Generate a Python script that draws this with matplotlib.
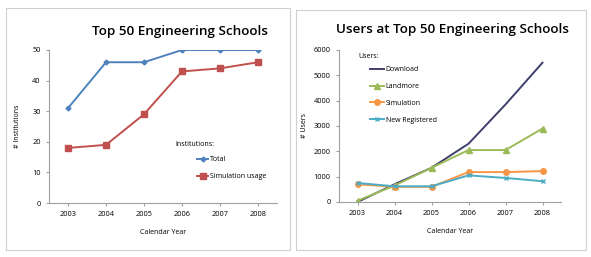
import matplotlib
matplotlib.use("Agg")
import matplotlib.pyplot as plt
from matplotlib.patches import Rectangle

years = ["2003", "2004", "2005", "2006", "2007", "2008"]
inst_total = [31, 46, 46, 50, 50, 50]
inst_sim = [18, 19, 29, 43, 44, 46]
users_download = [0, 700, 1350, 2300, 3850, 5500]
users_land = [50, 650, 1350, 2050, 2050, 2900]
users_sim = [700, 600, 600, 1180, 1180, 1220]
users_new = [750, 620, 620, 1050, 950, 820]

W, H = 591, 257
fig = plt.figure(figsize=(W / 100, H / 100), dpi=100)
fig.patch.set_facecolor("white")
plt.rcParams['font.family'] = ['Open Sans', 'DejaVu Sans']

def px(x, y, w, h):
    return [x / W, (H - y - h) / H, w / W, h / H]

# panel borders
for (x0, y0, w, h) in [(6, 8, 284, 242), (296, 10, 290, 240)]:
    fig.patches.append(Rectangle((x0 / W, (H - y0 - h) / H), w / W, h / H,
                                 transform=fig.transFigure, fill=False,
                                 edgecolor="#d0d0d0", linewidth=0.8))

xs = list(range(len(years)))

def style(ax):
    for s in ["top", "right"]:
        ax.spines[s].set_visible(False)
    for s in ["left", "bottom"]:
        ax.spines[s].set_color("#a0a0a0")
        ax.spines[s].set_linewidth(0.8)
    ax.tick_params(axis="both", labelsize=5.3, length=2, color="#a0a0a0", pad=4)
    ax.set_xticks(xs)
    ax.set_xticklabels(years)
    ax.set_xlim(-0.5, 5.5)

# Left chart
ax1 = fig.add_axes(px(49, 50, 228, 153))
style(ax1)
ax1.plot(xs, inst_total, color="#4F81BD", marker="D", markersize=2.5, linewidth=1.4,
         label="Total")
ax1.plot(xs, inst_sim, color="#C0504D", marker="s", markersize=5, linewidth=1.4,
         label="Simulation usage")
ax1.set_ylim(0, 50)
ax1.set_yticks([0, 10, 20, 30, 40, 50])
ax1.set_xlabel("Calendar Year", fontsize=5, labelpad=8)
ax1.set_ylabel("# Institutions", fontsize=5, labelpad=8)
fig.text(180 / W, 1 - 32 / H, "Top 50 Engineering Schools", fontsize=9.7,
         ha="center", va="center", fontweight="semibold")
fig.text(175 / W, 1 - 145 / H, "Institutions:", fontsize=5, ha="left", va="center")
ax1.legend(fontsize=5, frameon=False, loc="center left",
           bbox_to_anchor=((191 - 49) / 228, 1 - (168 - 50) / 153),
           handlelength=1.6, handletextpad=0.3, labelspacing=1.45)

# Right chart
ax2 = fig.add_axes(px(339, 50, 222, 152))
style(ax2)
ax2.plot(xs, users_download, color="#3F3F6B", linewidth=1.4, label="Download")
ax2.plot(xs, users_land, color="#9BBB59", marker="^", markersize=4, linewidth=1.4,
         label="Landmore")
ax2.plot(xs, users_sim, color="#F79646", marker="o", markersize=4, linewidth=1.4,
         label="Simulation")
ax2.plot(xs, users_new, color="#4BACC6", marker="x", markersize=3, linewidth=1.4,
         label="New Registered")
ax2.set_ylim(0, 6000)
ax2.set_yticks(range(0, 6001, 1000))
ax2.set_xlabel("Calendar Year", fontsize=5, labelpad=8)
ax2.set_ylabel("# Users", fontsize=5, labelpad=4)
fig.text(452 / W, 1 - 29 / H, "Users at Top 50 Engineering Schools", fontsize=9.7,
         ha="center", va="center", fontweight="semibold")
fig.text(358 / W, 1 - 57 / H, "Users:", fontsize=5, ha="left", va="center")
ax2.legend(fontsize=5, frameon=False, loc="center left",
           bbox_to_anchor=((364 - 339) / 222, 1 - (95 - 50) / 152),
           handlelength=2.0, handletextpad=0.2, labelspacing=1.4)

fig.savefig("out.png", dpi=100)
